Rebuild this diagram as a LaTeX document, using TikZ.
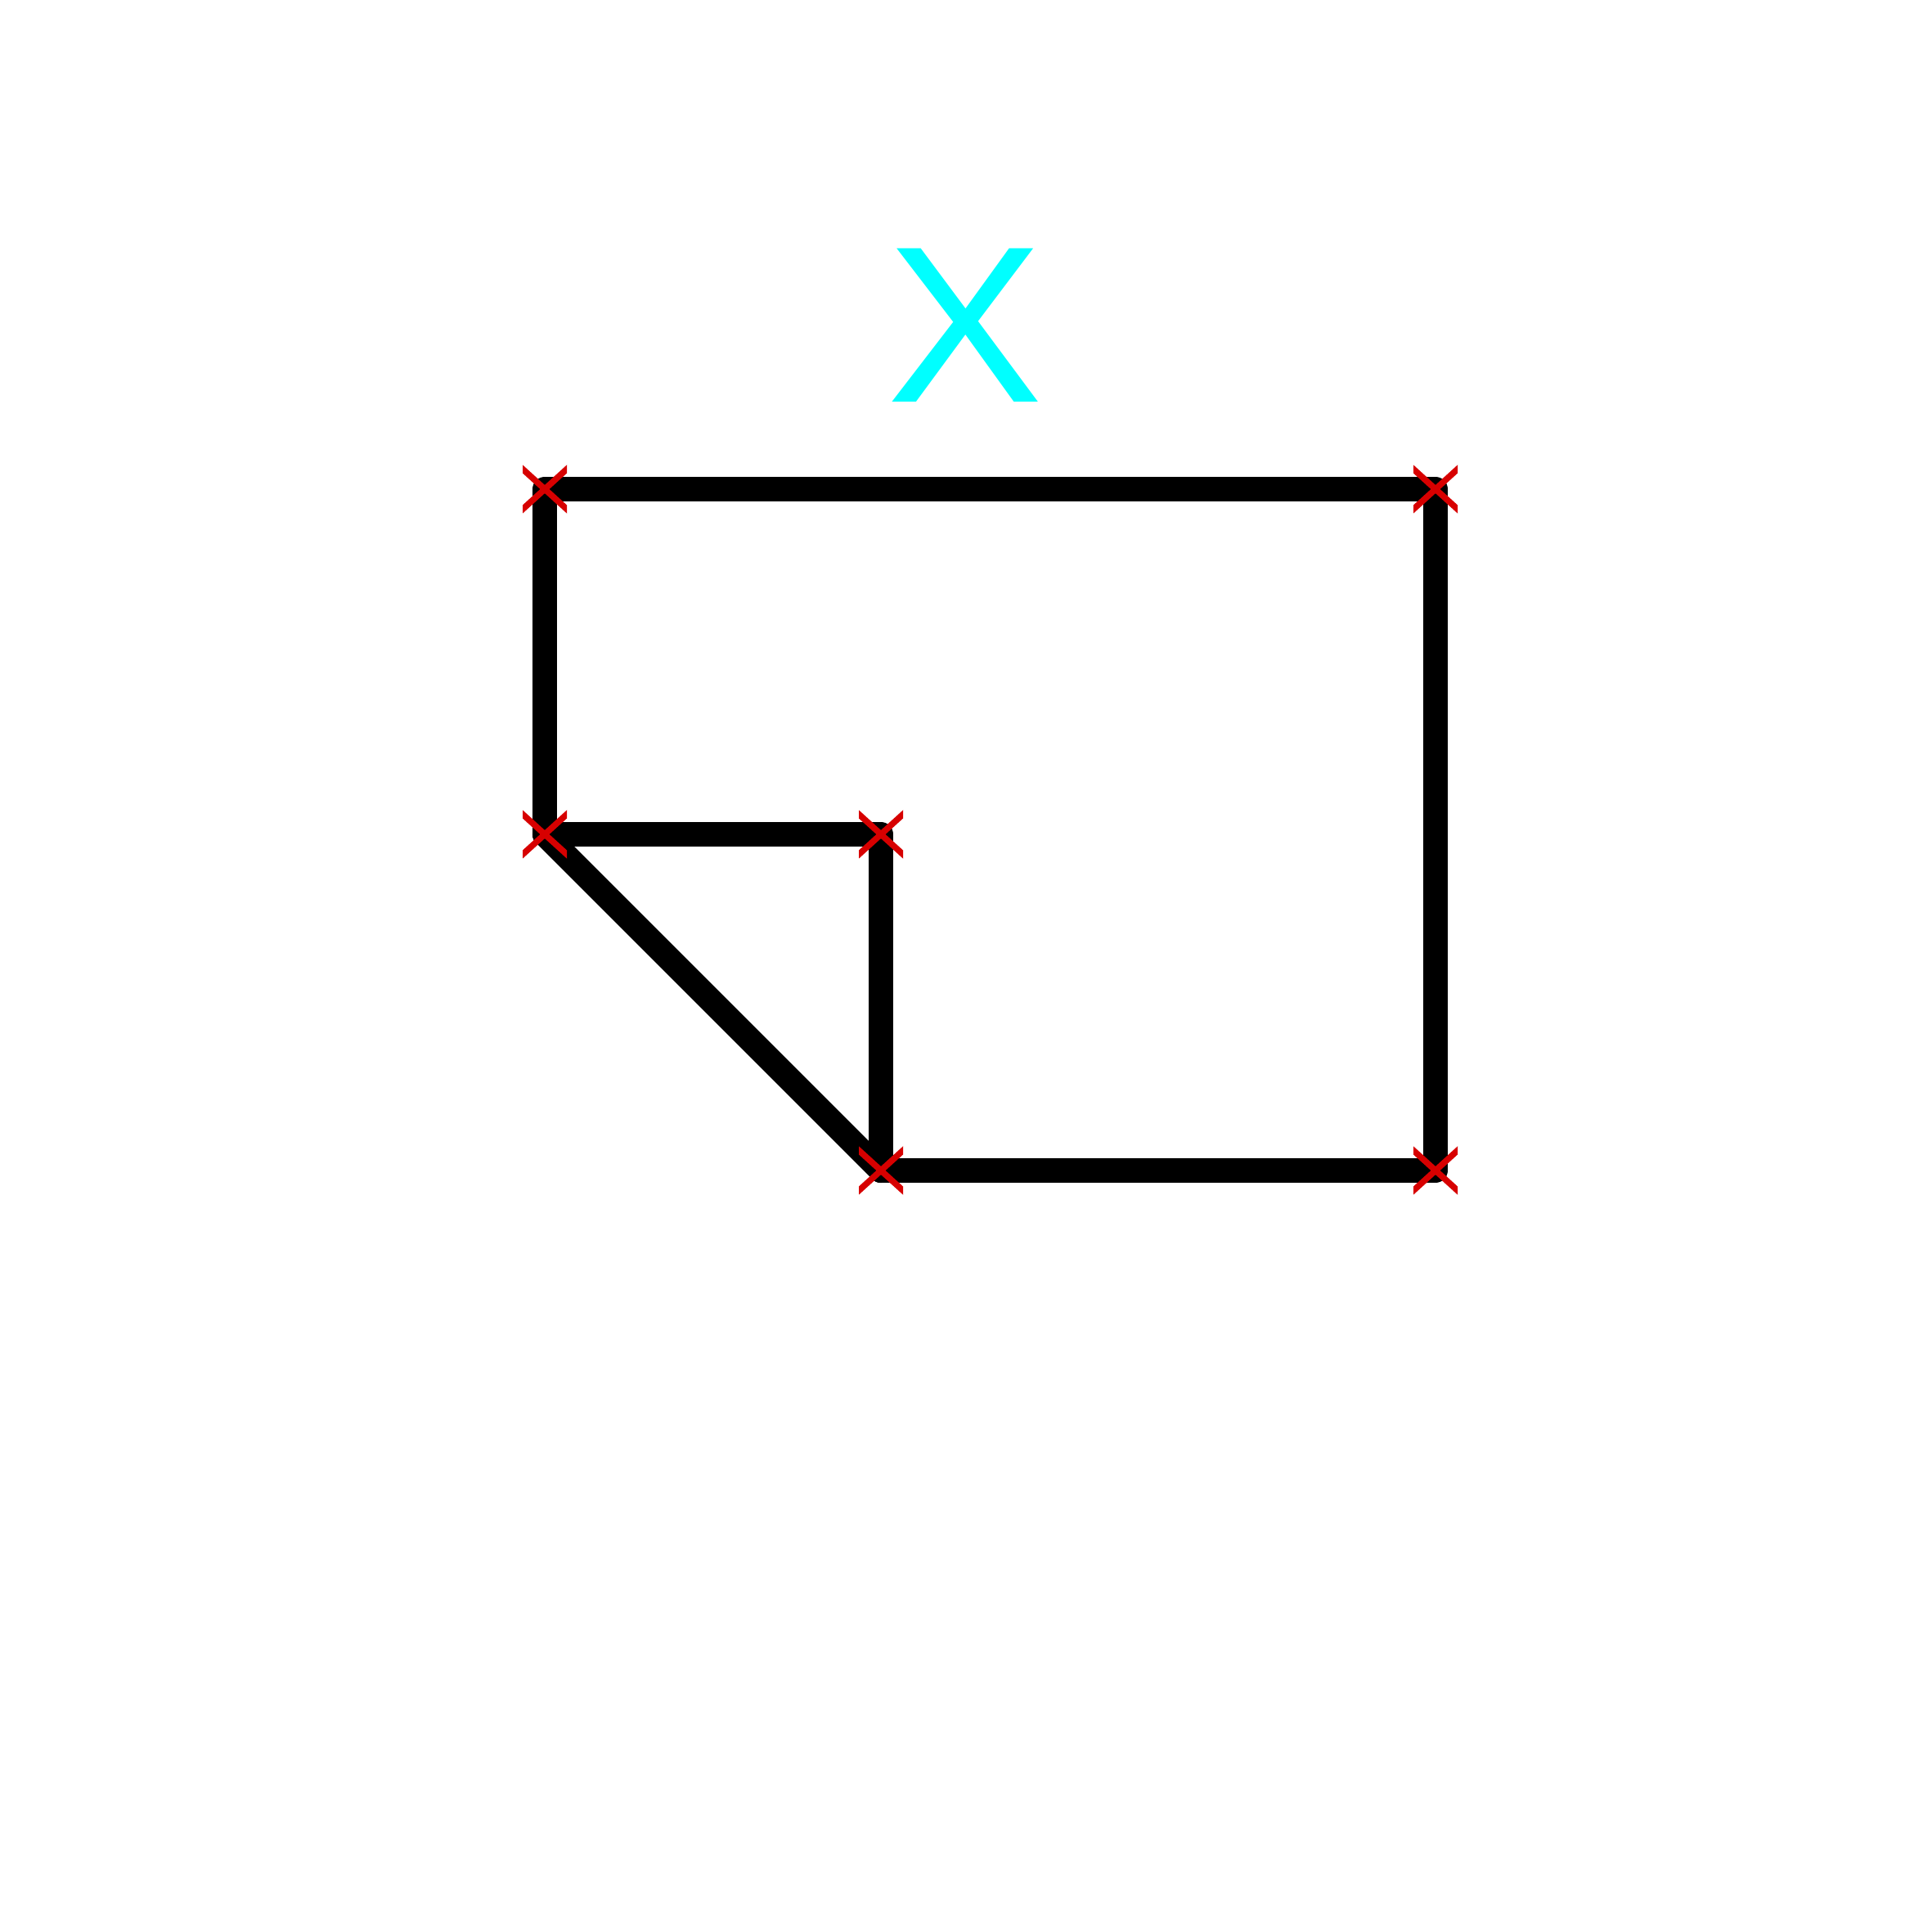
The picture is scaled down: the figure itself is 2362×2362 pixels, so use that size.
\documentclass[tikz,border=0pt]{standalone}
\usepackage{fontspec}
\setmainfont{Liberation Sans}
\usepackage{xcolor}
\usetikzlibrary{positioning}
\definecolor{markred}{RGB}{215,0,0}
\definecolor{labcyan}{RGB}{0,255,255}

\begin{document}
\begin{tikzpicture}[
   x=0.01cm,y=-0.01cm,
   edge/.style={line width=0.3cm,line cap=round,line join=round,black},
   lab/.style={font=\fontsize{77.5}{78}\selectfont,text=labcyan,inner sep=0pt,anchor=base},
   vmark/.style={line width=0.075cm,markred}
]
\useasboundingbox (0,0) rectangle (2362,2362);

% corner points
\coordinate (TL) at (666,598);
\coordinate (TR) at (1755,598);
\coordinate (ML) at (666,1020);
\coordinate (MM) at (1077,1020);
\coordinate (BM) at (1077,1431);
\coordinate (BR) at (1755,1431);

\node[lab] (X) at (1180,491) {\scalebox{1.05}[1]{X}};

% outline
\draw[edge] (ML) -- (TL) -- (TR) -- (BR) -- (BM);
\draw[edge] (BM) -- (MM) -- (ML);
\draw[edge] (ML) -- (BM);

% vertex marks
\foreach \p in {TL,TR,ML,MM,BM,BR}{
  \begin{scope}
    \clip ([shift={(-27,-30)}]\p) rectangle ([shift={(27,30)}]\p);
    \draw[vmark] ([shift={(-33,-30)}]\p) -- ([shift={(33,30)}]\p);
    \draw[vmark] ([shift={(-33,30)}]\p) -- ([shift={(33,-30)}]\p);
  \end{scope}
}
\end{tikzpicture}
\end{document}
